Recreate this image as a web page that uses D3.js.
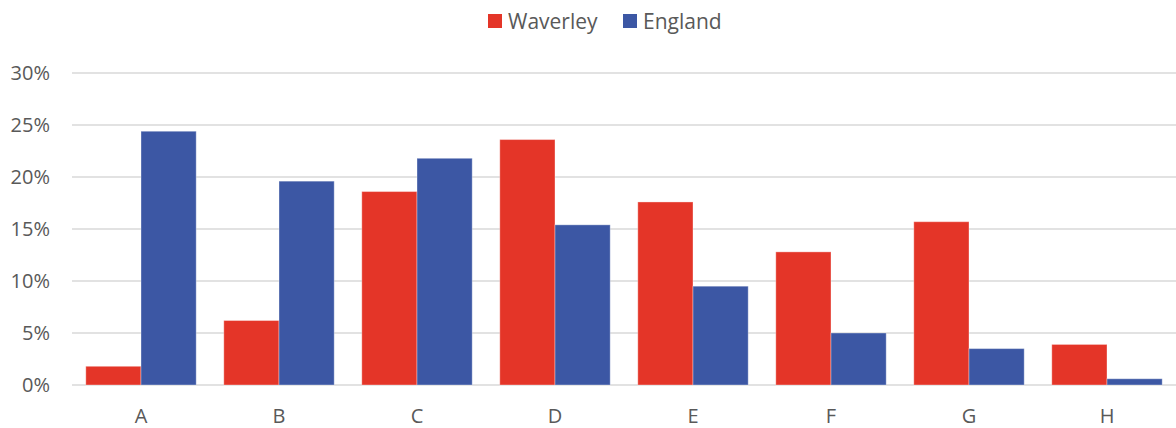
<!DOCTYPE html>
<html>
<head>
<meta charset="utf-8">
<script src="https://cdn.jsdelivr.net/npm/d3@7"></script>
<style>
  html, body { margin: 0; padding: 0; background: #fff; }
  svg { display: block; font-family: "Open Sans", "Liberation Sans", sans-serif; }
</style>
</head>
<body>
<div id="chart"></div>
<script>
const categories = ["A", "B", "C", "D", "E", "F", "G", "H"];
const seriesNames = ["Waverley", "England"];
const waverley = [1.8, 6.2, 18.6, 23.6, 17.6, 12.8, 15.7, 3.9];
const england = [24.4, 19.6, 21.8, 15.4, 9.5, 5.0, 3.5, 0.6];
const yTicks = [0, 5, 10, 15, 20, 25, 30];
const colors = ["#E43528", "#3C57A4"];

const W = 1176, H = 428;
const m = { left: 72, right: 0, top: 73, bottom: 43 };

const svg = d3.select("#chart").append("svg")
  .attr("width", W).attr("height", H);

const x = d3.scaleBand().domain(categories)
  .range([m.left, W - m.right]).paddingInner(0.2).paddingOuter(0.1);
const xs = d3.scaleBand().domain(seriesNames).range([0, x.bandwidth()]);
const y = d3.scaleLinear().domain([0, 30]).range([H - m.bottom, m.top]);

// gridlines
svg.append("g").selectAll("line").data(yTicks).join("line")
  .attr("x1", m.left).attr("x2", W - m.right)
  .attr("y1", d => y(d)).attr("y2", d => y(d))
  .attr("stroke", "#d9d9d9").attr("stroke-width", 1.5);

// y labels
svg.append("g").selectAll("text").data(yTicks).join("text")
  .attr("x", 50).attr("y", d => y(d)).attr("dy", "0.36em")
  .attr("text-anchor", "end").attr("fill", "#595959").attr("font-size", "20px")
  .text(d => d + "%");

// bars
const rows = categories.map((c, i) => ({ c, vals: [waverley[i], england[i]] }));
const groups = svg.append("g").selectAll("g").data(rows).join("g")
  .attr("transform", d => `translate(${x(d.c)},0)`);
groups.selectAll("rect").data(d => d.vals.map((v, k) => ({ s: seriesNames[k], v, k })))
  .join("rect")
  .attr("x", d => xs(d.s)).attr("width", xs.bandwidth())
  .attr("y", d => y(d.v)).attr("height", d => y(0) - y(d.v))
  .attr("fill", d => colors[d.k])
  .attr("stroke", "rgba(255,255,255,0.35)").attr("stroke-width", 1);

// x labels
svg.append("g").selectAll("text").data(categories).join("text")
  .attr("x", d => x(d) + x.bandwidth() / 2).attr("y", 423)
  .attr("text-anchor", "middle").attr("fill", "#595959").attr("font-size", "20px")
  .text(d => d);

// legend
const legendX = [488, 623];
const lg = svg.append("g").selectAll("g").data(seriesNames).join("g")
  .attr("transform", (d, i) => `translate(${legendX[i]},14)`);
lg.append("rect").attr("width", 14).attr("height", 14)
  .attr("fill", (d, i) => colors[i]);
lg.append("text").attr("x", 20).attr("y", 7).attr("dy", "0.36em")
  .attr("fill", "#595959").attr("font-size", "21px")
  .text(d => d);
</script>
</body>
</html>
